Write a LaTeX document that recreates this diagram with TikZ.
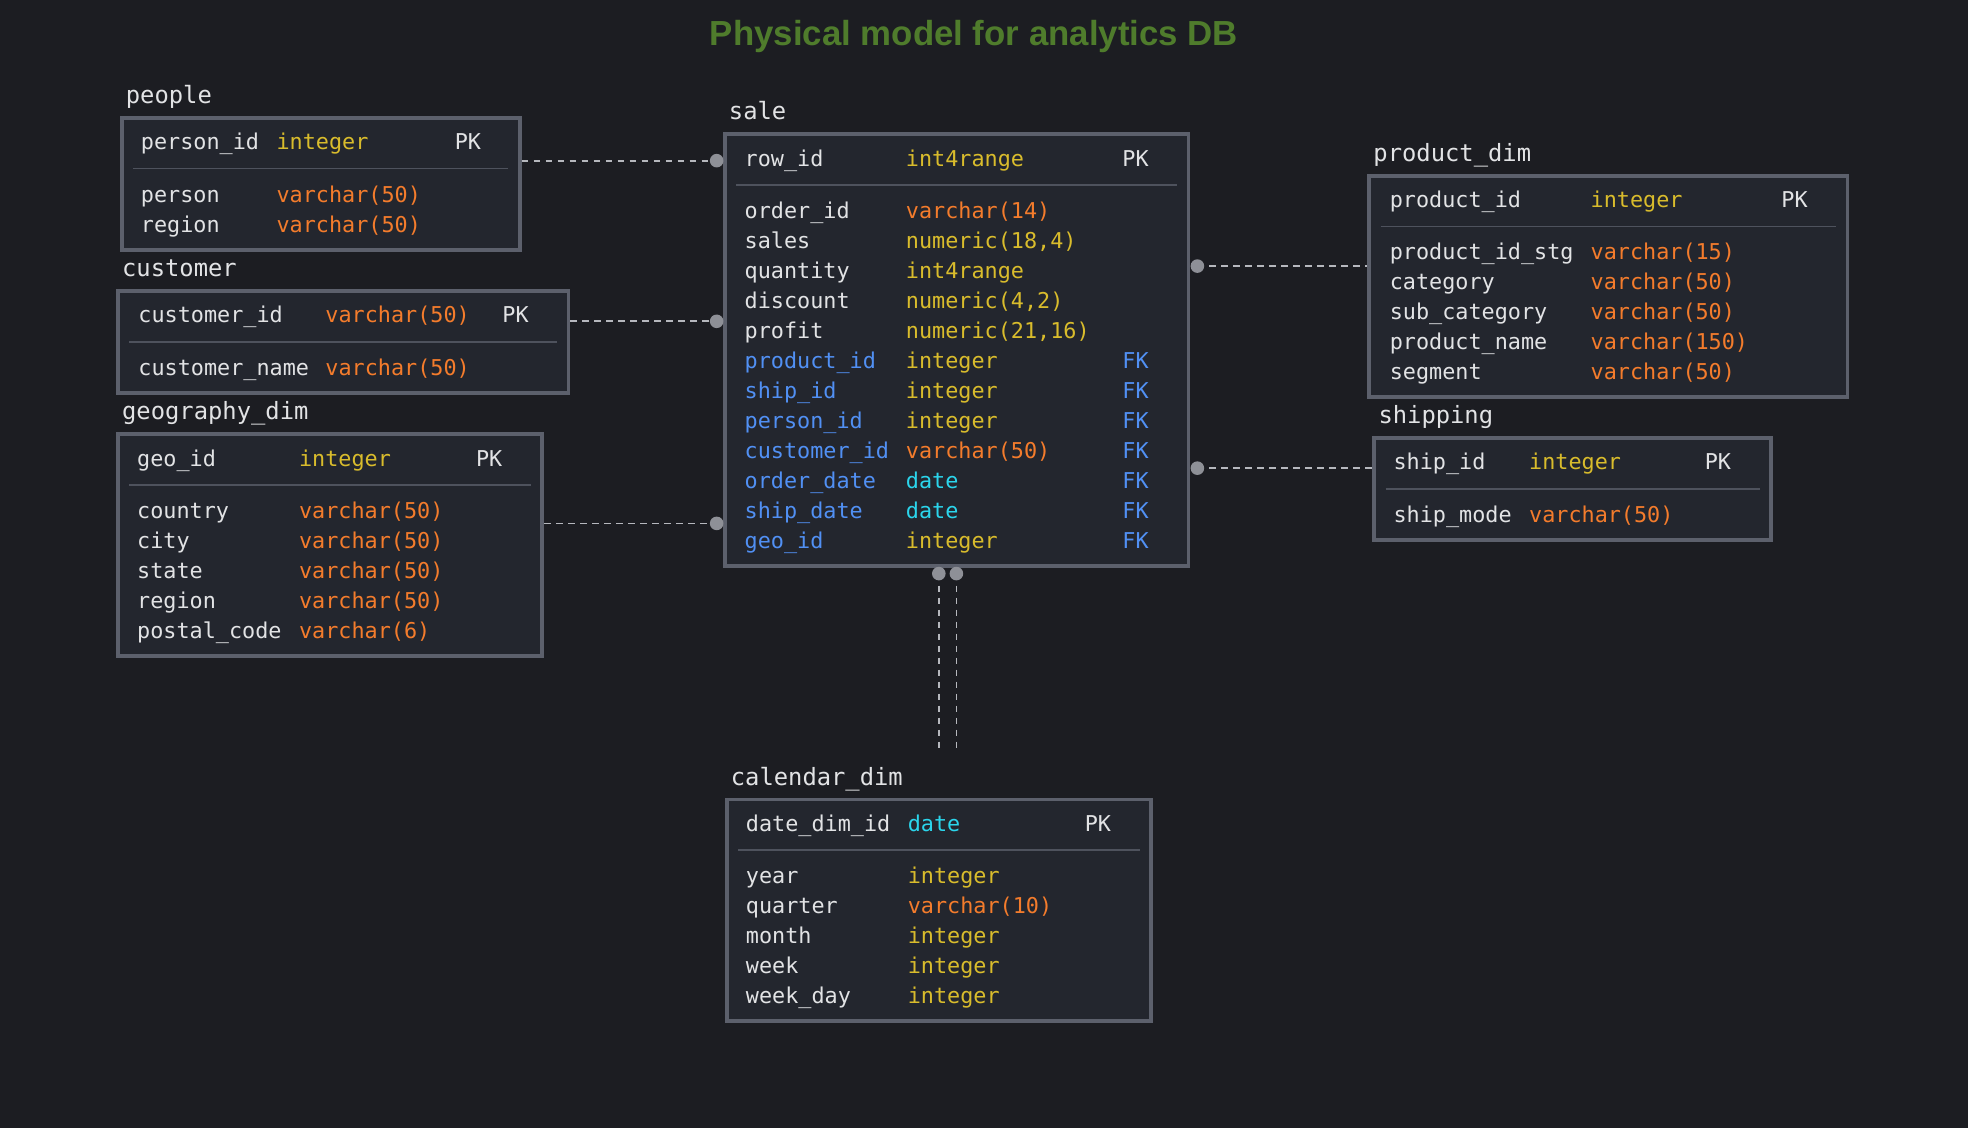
\documentclass[tikz,border=0pt]{standalone}
\usepackage{fontspec}
\setmainfont{Liberation Sans}
\newfontfamily\monof{DejaVu Sans Mono}
\newfontfamily\titlef{Liberation Sans}
\usetikzlibrary{fit}
\definecolor{bg}{HTML}{1C1D22}
\definecolor{boxfill}{HTML}{23262E}
\definecolor{boxline}{HTML}{5C606C}
\definecolor{sepline}{HTML}{4E525D}
\definecolor{txt}{HTML}{E2E3E5}
\definecolor{yel}{HTML}{D9BC2C}
\definecolor{org}{HTML}{F47C2C}
\definecolor{cyn}{HTML}{2BD5EC}
\definecolor{blu}{HTML}{5190F4}
\definecolor{ttl}{HTML}{4F7C2C}
\definecolor{dotc}{HTML}{8E9097}
\definecolor{dashc}{HTML}{B6B8BE}
\newcommand\ertbl[6]{%
  \node[tbox, fit={(#2,#3) (#4,#5)}] (#1) {};
  \node[tlabel] (#1-label) at (#2+3,#3-11.5) {#6};
  \draw[sep] (#2+9,#3+40.4) -- (#4-9,#3+40.4);
}
\newcommand\erf[5]{\node[fld,#4] (#1) at (#2,#3) {#5};}
\begin{document}
\begin{tikzpicture}[x=0.62755pt,y=-0.62755pt,
  tbox/.style={draw=boxline, fill=boxfill, line width=1.9pt, inner sep=0pt},
  fld/.style={anchor=base west, inner sep=0pt, font=\monof\fontsize{10.9}{13}\selectfont},
  tlabel/.style={anchor=base west, inner sep=0pt, text=txt, font=\monof\fontsize{11.9}{14}\selectfont},
  sep/.style={draw=sepline, line width=0.8pt},
  conn/.style={draw=dashc, line width=0.85pt, dash pattern=on 3.4pt off 2.6pt},
  dotn/.style={circle, fill=dotc, inner sep=0pt, minimum size=6.8pt},
  cw/.style={text=txt}, cy/.style={text=yel}, co/.style={text=org}, ccy/.style={text=cyn}, cb/.style={text=blu}]
\fill[bg] (0,0) rectangle (1568,899);
\useasboundingbox (0,0) rectangle (1568,899);

\node[anchor=base, inner sep=0pt, text=ttl, font=\titlef\bfseries\fontsize{17.4}{20}\selectfont] (title) at (776,36) {Physical model for analytics DB};

% dots and free ends
\coordinate (dp) at (571,128);
\coordinate (dc) at (571,256);
\coordinate (dg) at (571,417);
\coordinate (dpr) at (954,212);
\coordinate (dsh) at (954,373);
\coordinate (dca1) at (748,457);
\coordinate (dca2) at (762,457);
\coordinate (ce1) at (748,600);
\coordinate (ce2) at (762,600);

% tables
\ertbl{people}{97}{94}{414}{198.9}{people}
\ertbl{customer}{94}{232}{453}{313}{customer}
\ertbl{geo}{94}{346}{432}{522.6}{geography\_dim}
\ertbl{sale}{577.5}{107}{947}{450.9}{sale}
\ertbl{product}{1091}{140}{1472}{316.6}{product\_dim}
\ertbl{shipping}{1095}{349}{1411}{430}{shipping}
\ertbl{calendar}{579}{637}{917}{813.6}{calendar\_dim}

% connectors
\draw[conn] (people.east |- dp) -- (dp);
\draw[conn] (customer.east |- dc) -- (dc);
\draw[conn] (geo.east |- dg) -- (dg);
\draw[conn] (dpr) -- (product.west |- dpr);
\draw[conn] (dsh) -- (shipping.west |- dsh);
\draw[conn] (dca1) -- (ce1);
\draw[conn] (dca2) -- (ce2);
\foreach \d in {dp,dc,dg,dpr,dsh,dca1,dca2} \node[dotn] (\d-dot) at (\d) {};

% people
\erf{p1n}{112}{119.3}{cw}{person\_id}\erf{p1t}{220}{119.3}{cy}{integer}\erf{p1k}{362}{119.3}{cw}{PK}
\erf{p2n}{112}{161}{cw}{person}\erf{p2t}{220}{161}{co}{varchar(50)}
\erf{p3n}{112}{184.9}{cw}{region}\erf{p3t}{220}{184.9}{co}{varchar(50)}

% customer
\erf{c1n}{110}{257.3}{cw}{customer\_id}\erf{c1t}{259}{257.3}{co}{varchar(50)}\erf{c1k}{400}{257.3}{cw}{PK}
\erf{c2n}{110}{299}{cw}{customer\_name}\erf{c2t}{259}{299}{co}{varchar(50)}

% geography_dim
\erf{g1n}{109}{371.3}{cw}{geo\_id}\erf{g1t}{238}{371.3}{cy}{integer}\erf{g1k}{379}{371.3}{cw}{PK}
\erf{g2n}{109}{413}{cw}{country}\erf{g2t}{238}{413}{co}{varchar(50)}
\erf{g3n}{109}{436.9}{cw}{city}\erf{g3t}{238}{436.9}{co}{varchar(50)}
\erf{g4n}{109}{460.8}{cw}{state}\erf{g4t}{238}{460.8}{co}{varchar(50)}
\erf{g5n}{109}{484.7}{cw}{region}\erf{g5t}{238}{484.7}{co}{varchar(50)}
\erf{g6n}{109}{508.6}{cw}{postal\_code}\erf{g6t}{238}{508.6}{co}{varchar(6)}

% sale
\erf{s1n}{593}{132.3}{cw}{row\_id}\erf{s1t}{721.5}{132.3}{cy}{int4range}\erf{s1k}{894}{132.3}{cw}{PK}
\erf{s2n}{593}{174}{cw}{order\_id}\erf{s2t}{721.5}{174}{co}{varchar(14)}
\erf{s3n}{593}{197.9}{cw}{sales}\erf{s3t}{721.5}{197.9}{cy}{numeric(18,4)}
\erf{s4n}{593}{221.8}{cw}{quantity}\erf{s4t}{721.5}{221.8}{cy}{int4range}
\erf{s5n}{593}{245.7}{cw}{discount}\erf{s5t}{721.5}{245.7}{cy}{numeric(4,2)}
\erf{s6n}{593}{269.6}{cw}{profit}\erf{s6t}{721.5}{269.6}{cy}{numeric(21,16)}
\erf{s7n}{593}{293.5}{cb}{product\_id}\erf{s7t}{721.5}{293.5}{cy}{integer}\erf{s7k}{894}{293.5}{cb}{FK}
\erf{s8n}{593}{317.4}{cb}{ship\_id}\erf{s8t}{721.5}{317.4}{cy}{integer}\erf{s8k}{894}{317.4}{cb}{FK}
\erf{s9n}{593}{341.3}{cb}{person\_id}\erf{s9t}{721.5}{341.3}{cy}{integer}\erf{s9k}{894}{341.3}{cb}{FK}
\erf{s10n}{593}{365.2}{cb}{customer\_id}\erf{s10t}{721.5}{365.2}{co}{varchar(50)}\erf{s10k}{894}{365.2}{cb}{FK}
\erf{s11n}{593}{389.1}{cb}{order\_date}\erf{s11t}{721.5}{389.1}{ccy}{date}\erf{s11k}{894}{389.1}{cb}{FK}
\erf{s12n}{593}{413}{cb}{ship\_date}\erf{s12t}{721.5}{413}{ccy}{date}\erf{s12k}{894}{413}{cb}{FK}
\erf{s13n}{593}{436.9}{cb}{geo\_id}\erf{s13t}{721.5}{436.9}{cy}{integer}\erf{s13k}{894}{436.9}{cb}{FK}

% product_dim
\erf{r1n}{1107}{165.3}{cw}{product\_id}\erf{r1t}{1267}{165.3}{cy}{integer}\erf{r1k}{1419}{165.3}{cw}{PK}
\erf{r2n}{1107}{207}{cw}{product\_id\_stg}\erf{r2t}{1267}{207}{co}{varchar(15)}
\erf{r3n}{1107}{230.9}{cw}{category}\erf{r3t}{1267}{230.9}{co}{varchar(50)}
\erf{r4n}{1107}{254.8}{cw}{sub\_category}\erf{r4t}{1267}{254.8}{co}{varchar(50)}
\erf{r5n}{1107}{278.7}{cw}{product\_name}\erf{r5t}{1267}{278.7}{co}{varchar(150)}
\erf{r6n}{1107}{302.6}{cw}{segment}\erf{r6t}{1267}{302.6}{co}{varchar(50)}

% shipping
\erf{h1n}{1110}{374.3}{cw}{ship\_id}\erf{h1t}{1218}{374.3}{cy}{integer}\erf{h1k}{1358}{374.3}{cw}{PK}
\erf{h2n}{1110}{416}{cw}{ship\_mode}\erf{h2t}{1218}{416}{co}{varchar(50)}

% calendar_dim
\erf{k1n}{594}{662.3}{cw}{date\_dim\_id}\erf{k1t}{723}{662.3}{ccy}{date}\erf{k1k}{864}{662.3}{cw}{PK}
\erf{k2n}{594}{704}{cw}{year}\erf{k2t}{723}{704}{cy}{integer}
\erf{k3n}{594}{727.9}{cw}{quarter}\erf{k3t}{723}{727.9}{co}{varchar(10)}
\erf{k4n}{594}{751.8}{cw}{month}\erf{k4t}{723}{751.8}{cy}{integer}
\erf{k5n}{594}{775.7}{cw}{week}\erf{k5t}{723}{775.7}{cy}{integer}
\erf{k6n}{594}{799.6}{cw}{week\_day}\erf{k6t}{723}{799.6}{cy}{integer}
\end{tikzpicture}
\end{document}
